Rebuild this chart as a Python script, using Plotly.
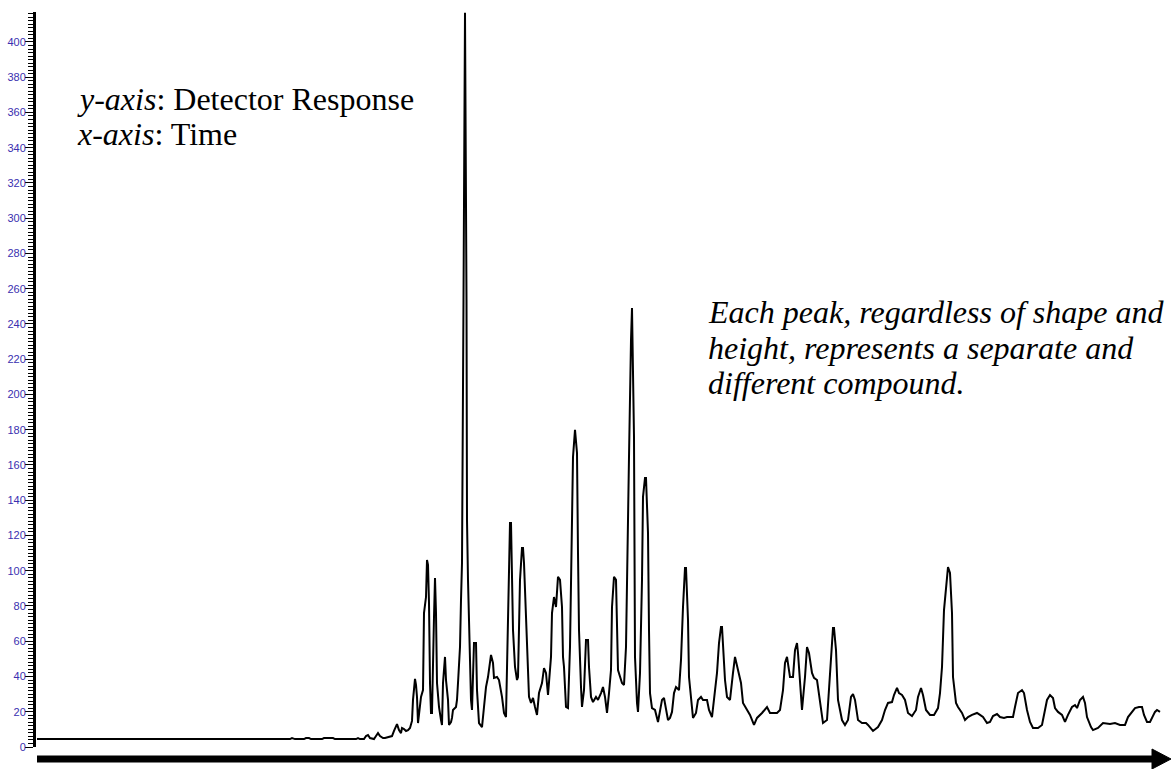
import plotly.graph_objects as go

# ---- data (time in arbitrary units, detector response) ----
time = [37, 290, 292, 295, 304, 306, 309, 311, 322, 324, 333, 335, 356, 358, 360, 364, 366, 368, 370, 374,
        376, 378, 380, 383, 385, 388, 390, 392, 394, 396, 397, 399, 401, 402, 404, 406, 408, 410, 412, 413,
        414, 415, 416, 417, 418, 419, 421, 423, 424, 426, 427, 428, 429, 430, 431, 432, 433, 434, 435, 436,
        437, 439, 441, 442, 443, 444, 445, 446, 448, 449, 451, 452, 453, 456, 457, 458, 460, 461, 462, 463.5,
        465, 466.5, 467, 468, 469, 471, 472, 473, 474, 476, 477, 479, 482, 484, 486, 488, 491, 493, 494, 497,
        499, 502, 504, 506, 507, 508, 509, 510, 511, 512, 513, 515, 517, 518, 520, 522, 523, 524, 526, 527,
        528, 529, 531, 533, 535, 537, 539, 542, 544, 546, 548, 550, 551, 552, 554, 556, 558, 560, 562, 563,
        564, 566, 568, 570, 571, 573, 575, 577, 578, 579, 581, 582, 584, 586, 588, 589, 591, 593, 596, 598,
        601, 603, 605, 607, 609, 611, 612, 614, 616, 617, 618, 622, 624, 626, 627, 629, 631, 632, 634, 635,
        637, 638, 640, 642, 643, 645, 646, 648, 649, 650, 652, 655, 658, 660, 662, 664, 666, 668, 670, 672,
        674, 676, 679, 681, 683, 685, 686, 688, 689, 692, 693, 696, 698, 701, 703, 707, 709, 712, 714, 717,
        719, 721, 722, 723, 725, 727, 730, 733, 735, 738, 741, 743, 747, 750, 754, 757, 762, 767, 770, 777,
        780, 783, 785, 787, 790, 793, 795, 797, 798, 801, 802, 805, 807, 809, 812, 814, 817, 818, 821, 823,
        827, 830, 833, 834, 836, 838, 842, 845, 848, 851, 853, 855, 858, 862, 866, 868, 873, 878, 882, 885,
        888, 892, 894, 897, 899, 902, 905, 908, 912, 916, 918, 921, 923, 926, 930, 934, 938, 940, 942, 944,
        947, 948, 950, 952, 953, 956, 958, 962, 965, 968, 972, 977, 980, 983, 987, 990, 993, 997, 1000, 1004,
        1007, 1013, 1015, 1018, 1022, 1024, 1027, 1030, 1033, 1038, 1042, 1045, 1047, 1050, 1053, 1055, 1058,
        1062, 1065, 1068, 1072, 1075, 1077, 1080, 1083, 1085, 1087, 1091, 1093, 1098, 1103, 1110, 1115, 1120,
        1125, 1128, 1132, 1135, 1139, 1142, 1144, 1147, 1150, 1153, 1155, 1157, 1160]

response = [4.5, 4.5, 5.1, 4.5, 4.5, 5.1, 5.1, 4.5, 4.5, 5.1, 5.1, 4.5, 4.5, 5.1, 4.5, 4.5, 6.2, 6.8, 5.1, 4.5,
            6.2, 7.9, 6.2, 5.1, 5.1, 5.7, 5.7, 6.2, 9.1, 11.9, 13.0, 9.6, 7.9, 10.8, 10.2, 9.1, 9.6, 10.8, 14.8, 26.7,
            32.3, 38.6, 35.2, 28.4, 13.6, 19.9, 28.4, 32.3, 76.0, 85.1, 106.1, 103.3, 81.7, 36.3, 19.3, 19.3, 59.0, 73.8, 95.9, 76.0,
            36.3, 22.7, 15.3, 12.5, 36.3, 43.7, 51.1, 38.0, 26.7, 12.5, 14.2, 16.5, 21.0, 22.7, 26.7, 36.3, 56.7, 83.4, 104.4, 253.6,
            416.5, 253.6, 128.8, 94.8, 66.4, 26.7, 21.0, 38.0, 59.0, 59.0, 32.3, 13.6, 11.3, 22.7, 34.0, 39.7, 52.2, 47.7, 39.2, 39.7,
            38.0, 28.4, 19.3, 17.0, 47.7, 76.0, 106.1, 127.1, 127.1, 96.5, 66.4, 45.4, 38.0, 39.7, 94.8, 112.9, 112.9, 104.4, 77.7, 55.0,
            49.4, 28.4, 25.0, 27.8, 22.7, 18.2, 30.6, 36.3, 44.8, 42.0, 29.5, 43.7, 51.1, 76.0, 85.1, 79.4, 96.5, 94.8, 79.4, 51.1,
            45.4, 22.7, 22.1, 56.7, 104.4, 164.5, 179.9, 166.8, 110.1, 66.4, 34.0, 22.7, 32.3, 60.7, 60.7, 45.4, 28.4, 25.5, 28.4, 26.7,
            30.6, 34.0, 28.4, 19.3, 30.6, 43.7, 79.4, 96.5, 94.8, 68.1, 43.7, 36.3, 35.2, 56.7, 100.4, 164.5, 230.9, 249.1, 175.9, 51.1,
            25.0, 19.9, 42.0, 94.8, 141.9, 152.6, 152.6, 121.4, 66.4, 30.6, 22.1, 21.0, 14.2, 21.0, 26.7, 27.8, 21.0, 15.3, 16.5, 19.9,
            30.6, 34.0, 32.3, 49.4, 79.4, 101.6, 101.6, 72.1, 39.7, 22.7, 16.5, 19.3, 26.7, 28.4, 26.7, 26.7, 21.0, 17.0, 26.7, 42.0,
            59.0, 68.1, 68.1, 55.0, 38.0, 28.4, 26.7, 42.0, 51.1, 43.7, 36.3, 25.0, 21.0, 18.2, 12.5, 16.5, 19.3, 22.7, 19.3, 19.3,
            21.0, 32.3, 47.7, 51.1, 39.7, 39.7, 55.0, 59.0, 53.3, 30.6, 21.0, 39.7, 56.7, 53.3, 42.0, 39.2, 38.0, 34.0, 22.7, 13.6,
            15.3, 39.7, 67.5, 67.5, 55.0, 26.7, 15.3, 12.5, 15.3, 28.4, 30.1, 26.7, 15.3, 13.6, 13.6, 12.5, 9.1, 11.3, 15.3, 21.0,
            25.0, 25.5, 29.5, 33.5, 30.6, 29.5, 26.7, 19.3, 17.6, 21.0, 28.4, 33.5, 29.5, 21.0, 18.2, 18.2, 22.1, 30.6, 45.4, 77.7,
            94.8, 102.1, 98.7, 76.0, 39.7, 25.0, 22.7, 19.3, 15.3, 17.0, 18.2, 19.3, 18.2, 17.0, 13.6, 14.2, 17.6, 18.7, 17.0, 16.5,
            17.0, 17.0, 22.7, 30.6, 32.3, 30.6, 21.0, 14.2, 10.8, 10.8, 12.5, 21.0, 26.7, 29.5, 27.8, 22.1, 19.9,
            18.2, 14.2, 18.2, 22.7, 23.8, 22.1, 26.7, 28.4, 25.0, 17.0, 11.3, 9.6, 10.8, 13.6, 13.0, 13.6, 12.5,
            12.5, 17.0, 19.9, 22.1, 22.7, 22.7, 18.2, 14.2, 14.2, 18.2, 19.9, 21.0, 19.9]

y_labels_every = 20
y_max = 417

label_lines_left = ["<i>y-axis</i>: Detector Response", "<i>x-axis</i>: Time"]
label_lines_right = ["<i>Each peak, regardless of shape and</i>",
                     "<i>height, represents a separate and</i>",
                     "<i>different compound.</i>"]

# ---- layout geometry (pixels) ----
W, H = 1175, 769
ML, MR, MT, MB = 36, 5, 12, 22
PW, PH = W - ML - MR, H - MT - MB


def px(xp, yp):
    return (xp - ML) / PW, (H - MB - yp) / PH


fig = go.Figure()
fig.add_trace(go.Scatter(x=time, y=response, mode="lines",
                         line=dict(color="black", width=2), showlegend=False, hoverinfo="skip"))
# dummy trace to make the mid-tick axis render
fig.add_trace(go.Scatter(x=[None], y=[None], yaxis="y2", showlegend=False, hoverinfo="skip"))

tickvals = list(range(0, 401, y_labels_every))
fig.update_layout(
    width=W, height=H, autosize=False,
    margin=dict(l=ML, r=MR, t=MT, b=MB, pad=0),
    paper_bgcolor="white", plot_bgcolor="white",
    xaxis=dict(range=[ML, W - MR], visible=False, showgrid=False, zeroline=False),
    yaxis=dict(range=[0, y_max], tickvals=tickvals, ticktext=[str(v) for v in tickvals],
               ticks="outside", ticklen=8, tickwidth=1, tickcolor="black",
               showline=True, linecolor="black", linewidth=3,
               showgrid=False, zeroline=False, ticklabelstandoff=-3,
               tickfont=dict(family="Liberation Sans, Arial", size=11, color="#3a30b0"),
               minor=dict(ticks="outside", dtick=2, tick0=0, ticklen=5, tickwidth=1,
                          tickcolor="black", showgrid=False)),
    yaxis2=dict(range=[0, y_max], overlaying="y", side="left", anchor="x",
                tickvals=list(range(10, 411, 20)), ticks="outside", ticklen=7, tickwidth=1,
                tickcolor="black", showticklabels=False, showgrid=False, zeroline=False,
                showline=False),
)

# x-axis arrow
x0, y0 = px(37, 759)
x1, _ = px(1153, 759)
fig.add_shape(type="line", xref="paper", yref="paper", x0=x0, y0=y0, x1=x1, y1=y0,
              line=dict(color="black", width=7))
a, b = px(1152, 749)
c, d = px(1171, 759)
e, f = px(1152, 769)
fig.add_shape(type="path", xref="paper", yref="paper",
              path=f"M {a} {b} L {c} {d} L {e} {f} Z",
              fillcolor="black", line=dict(color="black", width=1))

font_txt = dict(family="Liberation Serif, Times New Roman", size=32, color="black")
for i, line in enumerate(label_lines_left):
    xx, yy = px(75, 99 + 35 * i)
    fig.add_annotation(text=line, xref="paper", yref="paper", x=xx, y=yy,
                       xanchor="left", yanchor="middle", showarrow=False, font=font_txt)
for i, line in enumerate(label_lines_right):
    xx, yy = px(706, 312 + 35.5 * i)
    fig.add_annotation(text=line, xref="paper", yref="paper", x=xx, y=yy,
                       xanchor="left", yanchor="middle", showarrow=False, font=font_txt)

fig.write_html("out.html", config={"displayModeBar": False},
               post_script="document.body.style.margin='0px';document.body.style.overflow='hidden';")
